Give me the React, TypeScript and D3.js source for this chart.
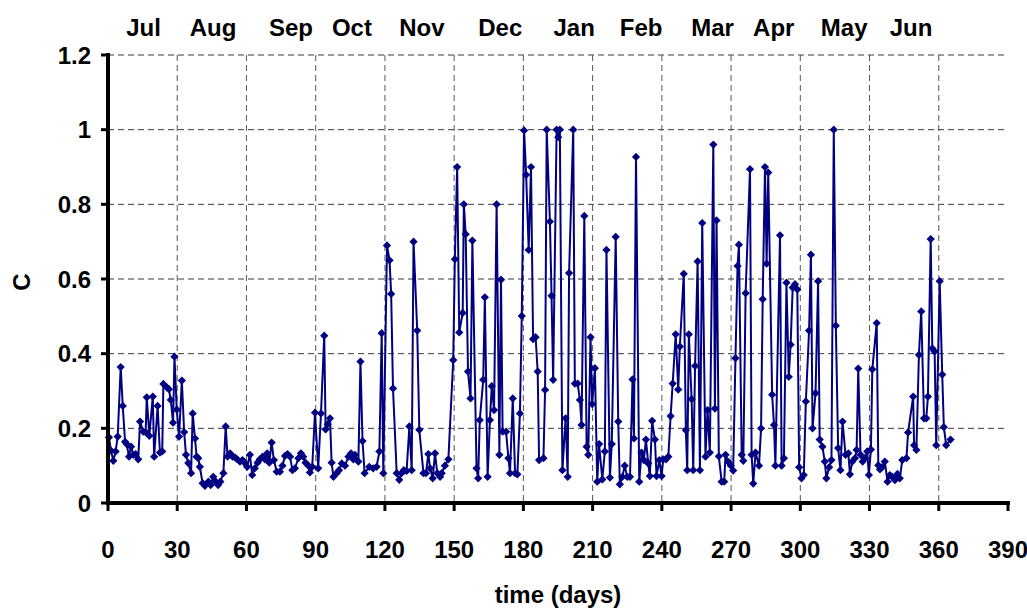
import React from "react";
import * as d3 from "d3";

// ---- data ----
const yTickValues = [0, 0.2, 0.4, 0.6, 0.8, 1, 1.2];
const yTickLabels = ["0", "0.2", "0.4", "0.6", "0.8", "1", "1.2"];
const xTickValues = [0, 30, 60, 90, 120, 150, 180, 210, 240, 270, 300, 330, 360, 390];
const monthNames = ["Jul", "Aug", "Sep", "Oct", "Nov", "Dec", "Jan", "Feb", "Mar", "Apr", "May", "Jun"];
const monthDays = [15.4, 45.5, 79.3, 105.7, 136, 170, 202, 231, 262, 288.5, 319, 348];

// [day, C]
const series: [number, number][] = [
  [0.4,0.176],[1.3,0.14],[2.3,0.113],[3.3,0.138],[4.2,0.178],[5.5,0.364],[6.4,0.26],[7.4,0.164],[8.1,0.158],[9.1,0.124],
  [10,0.151],[11,0.129],[12,0.131],[13.1,0.117],[13.9,0.218],[15.3,0.191],[16.3,0.19],[16.8,0.283],[17.9,0.18],[19.4,0.285],
  [20,0.124],[21.5,0.26],[22.5,0.135],[23.5,0.138],[24,0.319],[25.5,0.31],[26.4,0.305],[27.2,0.276],[28.2,0.215],[28.8,0.392],
  [29.8,0.25],[30.8,0.178],[32,0.328],[33,0.19],[33.8,0.129],[34.8,0.107],[36,0.08],[36.7,0.24],[37.7,0.173],[38.4,0.124],
  [39.1,0.12],[39.8,0.097],[41,0.053],[42,0.046],[43.5,0.057],[44.5,0.048],[45.6,0.07],[46.7,0.057],[47.7,0.048],[48.7,0.057],
  [50,0.08],[51,0.205],[51.8,0.124],[52.9,0.133],[54,0.124],[55,0.122],[56,0.117],[57.2,0.111],[58.3,0.115],[59.3,0.107],
  [60.3,0.097],[61.5,0.129],[62.5,0.075],[63.6,0.093],[64.8,0.108],[65.8,0.117],[67,0.124],[68,0.117],[69,0.133],[69.9,0.108],
  [70.9,0.162],[71.9,0.115],[73.1,0.084],[74.5,0.084],[75.6,0.1],[76.7,0.126],[77.8,0.131],[78.9,0.124],[79.9,0.088],[81,0.093],
  [82.5,0.12],[83.6,0.133],[84.6,0.124],[85.6,0.108],[86.8,0.1],[87.5,0.082],[88.5,0.097],[89.7,0.242],[91.1,0.093],[92.3,0.24],
  [93.7,0.448],[94.3,0.197],[95.2,0.211],[96.2,0.227],[96.9,0.108],[97.7,0.07],[99.1,0.08],[100.1,0.088],[101.3,0.106],[102.7,0.1],
  [104.2,0.124],[105.3,0.133],[106.3,0.117],[107,0.129],[108.5,0.111],[109.4,0.379],[110.3,0.166],[111.2,0.08],[113.2,0.097],[114.9,0.093],
  [116.4,0.097],[117.6,0.138],[118.6,0.455],[119.3,0.08],[120.9,0.69],[122,0.65],[122.7,0.56],[123.5,0.307],[125.1,0.08],[126.2,0.062],
  [127.2,0.08],[128.2,0.088],[129.4,0.086],[130.6,0.205],[131.6,0.088],[132.4,0.7],[134,0.462],[134.9,0.196],[136.7,0.08],[137.8,0.08],
  [138.8,0.131],[139.6,0.093],[140.7,0.066],[141.7,0.133],[142.7,0.08],[143.9,0.07],[144.6,0.08],[146,0.1],[147.5,0.117],[149.6,0.383],
  [150.3,0.653],[151.3,0.9],[152.2,0.457],[153.7,0.509],[154.2,0.8],[155,0.72],[156,0.352],[157.1,0.28],[157.9,0.703],[159.7,0.093],
  [160.4,0.066],[161.1,0.222],[162.6,0.33],[163.3,0.551],[164.5,0.07],[165.5,0.222],[166.3,0.313],[167.3,0.249],[168.4,0.8],[169.6,0.129],
  [170.3,0.598],[171,0.191],[172.5,0.191],[173.5,0.12],[174.2,0.08],[175.4,0.28],[176.4,0.08],[177.4,0.077],[178.5,0.24],[179.3,0.501],
  [180.3,0.998],[181.2,0.879],[182.3,0.678],[183.3,0.9],[184.2,0.439],[185.3,0.444],[186.2,0.352],[186.8,0.115],[188.7,0.12],[189.4,0.303],
  [190.1,1.0],[191.5,0.754],[192.2,0.555],[192.9,0.33],[194.4,1.0],[195.1,0.98],[195.8,1.0],[196.9,0.088],[198.3,0.227],[199.2,0.07],
  [199.8,0.616],[201.6,1.0],[202.3,0.32],[203.5,0.32],[204.5,0.276],[205.2,0.209],[206.4,0.769],[207.4,0.151],[208.1,0.129],[209.1,0.444],
  [209.8,0.265],[211,0.361],[212,0.057],[212.8,0.158],[214.2,0.063],[215.3,0.138],[216,0.678],[217.5,0.068],[218.3,0.158],[220,0.713],
  [221.1,0.218],[221.8,0.05],[222.9,0.07],[223.9,0.1],[225,0.07],[226.2,0.07],[227.3,0.331],[227.9,0.173],[228.8,0.927],[230.2,0.057],
  [231.2,0.135],[232.2,0.115],[233.1,0.17],[234.1,0.106],[234.8,0.072],[235.8,0.22],[237,0.17],[237.7,0.072],[238.9,0.115],[239.9,0.072],
  [240.6,0.117],[241.8,0.117],[242.8,0.124],[243.8,0.233],[244.7,0.32],[246,0.452],[247.1,0.304],[247.8,0.419],[249.5,0.614],[250.4,0.195],
  [251,0.088],[251.7,0.452],[252.9,0.278],[253.6,0.088],[254.4,0.367],[255.5,0.647],[256.5,0.088],[257.5,0.75],[258.9,0.124],[259.8,0.249],
  [260.8,0.135],[262.3,0.96],[263,0.253],[263.7,0.757],[264.7,0.125],[265.9,0.057],[267,0.057],[267.6,0.129],[268.8,0.11],[269.9,0.1],
  [270.9,0.087],[271.9,0.388],[272.8,0.635],[273.4,0.692],[274.6,0.129],[275.3,0.113],[276.3,0.562],[278.2,0.894],[278.9,0.129],[279.6,0.052],
  [280.6,0.135],[282.1,0.1],[283,0.2],[283.7,0.546],[284.7,0.9],[285.4,0.641],[286.1,0.885],[287.8,0.29],[288.6,0.209],[289.2,0.1],
  [291.2,0.717],[291.9,0.1],[292.9,0.12],[294,0.59],[295,0.338],[295.8,0.424],[296.7,0.577],[297.7,0.586],[298.7,0.572],[299.5,0.096],
  [300.5,0.066],[301.5,0.075],[302.4,0.272],[303.8,0.462],[304.6,0.665],[305.3,0.2],[306.6,0.294],[307.7,0.594],[308.4,0.17],[309.6,0.151],
  [310.6,0.111],[311.3,0.066],[312.5,0.096],[313.5,0.115],[314.5,1.0],[315.4,0.475],[316.4,0.147],[317.4,0.088],[318.3,0.218],[319.6,0.129],
  [320.8,0.133],[321.5,0.077],[322.5,0.111],[323.7,0.12],[324.4,0.142],[325.1,0.36],[326.1,0.129],[327,0.111],[328,0.12],[329,0.138],
  [329.7,0.075],[330.6,0.143],[331.2,0.358],[333.1,0.482],[333.8,0.101],[334.5,0.09],[335.5,0.096],[336.6,0.111],[337.8,0.057],[338.8,0.075],
  [339.8,0.07],[341,0.061],[342.1,0.078],[343.1,0.066],[344.2,0.115],[346,0.12],[346.7,0.189],[348.9,0.285],[349.3,0.155],[350.3,0.142],
  [351.4,0.397],[352.4,0.513],[353.6,0.227],[354.6,0.227],[355.3,0.285],[356.5,0.707],[357.2,0.414],[358.2,0.406],[358.9,0.155],[360.4,0.594],
  [361.5,0.344],[362.2,0.203],[363.2,0.155],[365.1,0.17],
];

const W = 1027;
const H = 608;
const M = { left: 108, right: 1008, top: 55, bottom: 503 };
const FONT = "'Liberation Sans', Arial, sans-serif";
const NAVY = "#000080";

export default function App() {
  const x = d3.scaleLinear().domain([0, 390]).range([M.left, M.right]);
  const y = d3.scaleLinear().domain([0, 1.2]).range([M.bottom, M.top]);
  const line = d3
    .line<[number, number]>()
    .x((d) => x(d[0]))
    .y((d) => y(d[1]));
  const marker = d3.symbol().type(d3.symbolSquare).size(34)();

  return (
    <svg
      width={W}
      height={H}
      style={{ position: "absolute", left: 0, top: 0, background: "#fff" }}
      fontFamily={FONT}
      fontWeight="bold"
    >
      <rect width={W} height={H} fill="#fff" />
      {/* horizontal grid */}
      {yTickValues.slice(1).map((v) => (
        <line
          key={"hg" + v}
          x1={M.left}
          x2={M.right}
          y1={y(v)}
          y2={y(v)}
          stroke="#3a3a3a"
          strokeWidth={1}
          strokeDasharray="6,4"
        />
      ))}
      {/* vertical grid */}
      {xTickValues.slice(1, -1).map((v) => (
        <line
          key={"vg" + v}
          x1={x(v)}
          x2={x(v)}
          y1={M.top}
          y2={M.bottom}
          stroke="#555"
          strokeWidth={1}
          strokeDasharray="6,4"
        />
      ))}
      {/* series */}
      <path d={line(series) || ""} fill="none" stroke={NAVY} strokeWidth={2} strokeLinejoin="round" />
      {series.map((d, i) => (
        <path
          key={i}
          d={marker || ""}
          transform={`translate(${x(d[0])},${y(d[1])}) rotate(45)`}
          fill={NAVY}
        />
      ))}
      {/* axes */}
      <line x1={M.left} x2={M.left} y1={M.top - 2} y2={M.bottom + 2} stroke="#000" strokeWidth={4} />
      <line x1={M.left - 2} x2={M.right + 2} y1={M.bottom} y2={M.bottom} stroke="#000" strokeWidth={4} />
      {yTickValues.map((v) => (
        <line key={"yt" + v} x1={M.left - 7} x2={M.left} y1={y(v)} y2={y(v)} stroke="#000" strokeWidth={3} />
      ))}
      {xTickValues.map((v) => (
        <line key={"xt" + v} x1={x(v)} x2={x(v)} y1={M.bottom} y2={M.bottom + 8} stroke="#000" strokeWidth={3} />
      ))}
      {/* y tick labels */}
      {yTickValues.map((v, i) => (
        <text key={"yl" + v} x={M.left - 17} y={y(v)} dy="0.36em" textAnchor="end" fontSize={24} fill="#000">
          {yTickLabels[i]}
        </text>
      ))}
      {/* x tick labels */}
      {xTickValues.map((v) => (
        <text key={"xl" + v} x={x(v)} y={558} textAnchor="middle" fontSize={24} fill="#000">
          {v}
        </text>
      ))}
      {/* month labels */}
      {monthNames.map((m, i) => (
        <text key={m} x={x(monthDays[i])} y={36} textAnchor="middle" fontSize={24} fill="#000">
          {m}
        </text>
      ))}
      {/* axis titles */}
      <text x={(M.left + M.right) / 2} y={603} textAnchor="middle" fontSize={24} fill="#000">
        time (days)
      </text>
      <text
        transform={`translate(30, ${(M.top + M.bottom) / 2 + 3}) rotate(-90)`}
        textAnchor="middle"
        fontSize={24}
        fill="#000"
      >
        C
      </text>
    </svg>
  );
}
